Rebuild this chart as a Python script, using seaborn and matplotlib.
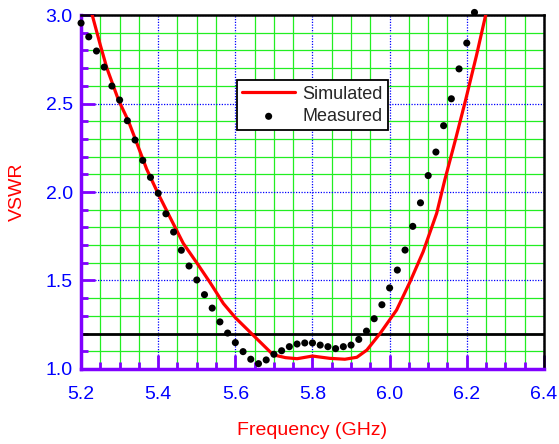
import matplotlib
matplotlib.use("Agg")
import matplotlib.pyplot as plt
import numpy as np
import pandas as pd
import seaborn as sns
from matplotlib.ticker import MultipleLocator

# measured VSWR, 20 MHz steps
meas_freq = [5.20, 5.22, 5.24, 5.26, 5.28, 5.30, 5.32, 5.34, 5.36, 5.38,
             5.40, 5.42, 5.44, 5.46, 5.48, 5.50, 5.52, 5.54, 5.56, 5.58,
             5.60, 5.62, 5.64, 5.66, 5.68, 5.70, 5.72, 5.74, 5.76, 5.78,
             5.80, 5.82, 5.84, 5.86, 5.88, 5.90, 5.92, 5.94, 5.96, 5.98,
             6.00, 6.02, 6.04, 6.06, 6.08, 6.10, 6.12, 6.14, 6.16, 6.18,
             6.20, 6.22]
meas_vswr = [2.955, 2.877, 2.797, 2.706, 2.599, 2.520, 2.403, 2.294, 2.179, 2.083,
             1.993, 1.877, 1.774, 1.671, 1.582, 1.503, 1.420, 1.344, 1.266, 1.203,
             1.149, 1.098, 1.055, 1.030, 1.051, 1.083, 1.103, 1.126, 1.141, 1.147,
             1.147, 1.135, 1.126, 1.115, 1.126, 1.135, 1.167, 1.214, 1.284, 1.363,
             1.458, 1.559, 1.672, 1.806, 1.939, 2.093, 2.226, 2.375, 2.527, 2.696,
             2.842, 3.015]

# simulated curve
sim_freq = [5.220, 5.229, 5.250, 5.267, 5.297, 5.323, 5.344, 5.370, 5.400, 5.430,
            5.465, 5.500, 5.534, 5.569, 5.600, 5.642, 5.670, 5.698, 5.730, 5.760,
            5.800, 5.845, 5.884, 5.915, 5.941, 5.975, 6.018, 6.053, 6.087, 6.122,
            6.143, 6.170, 6.197, 6.225, 6.249, 6.256]
sim_vswr = [3.06, 3.00, 2.83, 2.70, 2.52, 2.40, 2.28, 2.13, 1.99, 1.86,
            1.71, 1.60, 1.49, 1.37, 1.29, 1.20, 1.14, 1.08, 1.064, 1.058,
            1.073, 1.060, 1.055, 1.066, 1.107, 1.20, 1.333, 1.493, 1.663, 1.880,
            2.068, 2.29, 2.52, 2.77, 3.00, 3.05]

REF_LEVEL = 1.2

PURPLE = "#8000ff"
BLUE = "#0000ff"
RED = "#ff0000"

sns.set_style("ticks")
plt.rcParams["font.family"] = ["Liberation Sans", "DejaVu Sans"]

df_sim = pd.DataFrame({"freq": sim_freq, "vswr": sim_vswr})
df_meas = pd.DataFrame({"freq": meas_freq, "vswr": meas_vswr})

fig = plt.figure(figsize=(5.59, 4.44), dpi=100)
ax = fig.add_axes([0.145, 0.169, 0.828, 0.797])

# grid: green minor, blue dotted major
ax.xaxis.set_major_locator(MultipleLocator(0.2))
ax.xaxis.set_minor_locator(MultipleLocator(0.05))
ax.yaxis.set_major_locator(MultipleLocator(0.5))
ax.yaxis.set_minor_locator(MultipleLocator(0.1))
ax.grid(which="minor", color="#22ee22", lw=0.9, ls="-")
ax.grid(which="major", color=BLUE, lw=0.9, ls=(0, (1, 1.2)))
ax.set_axisbelow(True)

ax.axhline(REF_LEVEL, color="black", lw=2, zorder=2)

sns.lineplot(data=df_sim, x="freq", y="vswr", ax=ax, color=RED, lw=2.3,
             label="Simulated", sort=False, zorder=3)
sns.scatterplot(data=df_meas, x="freq", y="vswr", ax=ax, color="black",
                s=26, edgecolor="none", label="Measured", zorder=4, clip_on=False)

ax.set_xlim(5.2, 6.4)
ax.set_ylim(1.0, 3.0)
ax.set_xticks([5.2, 5.4, 5.6, 5.8, 6.0, 6.2, 6.4])
ax.set_xticklabels(["5.2", "5.4", "5.6", "5.8", "6.0", "6.2", "6.4"])
ax.set_yticks([1.0, 1.5, 2.0, 2.5, 3.0])
ax.set_yticklabels(["1.0", "1.5", "2.0", "2.5", "3.0"])

ax.tick_params(which="both", direction="in", color=PURPLE, width=2,
               labelsize=14, labelcolor=BLUE)
ax.tick_params(which="major", length=10)
ax.tick_params(which="minor", length=5)
ax.tick_params(axis="x", which="major", pad=12)
ax.tick_params(axis="y", which="major", pad=6)

for side in ["left", "bottom"]:
    ax.spines[side].set_color(PURPLE)
    ax.spines[side].set_linewidth(2.5)
for side in ["top", "right"]:
    ax.spines[side].set_color("black")
    ax.spines[side].set_linewidth(1.8)

ax.set_xlabel("Frequency (GHz)", color=RED, fontsize=14, labelpad=14)
ax.set_ylabel("VSWR", color=RED, fontsize=14, labelpad=14)

leg = ax.legend(loc="upper left", bbox_to_anchor=(0.337, 0.816), fontsize=13,
                frameon=True, fancybox=False, handlelength=2.9, borderpad=0.3,
                labelspacing=0.3, handletextpad=0.4, borderaxespad=0)
leg.get_frame().set_edgecolor("black")
leg.get_frame().set_linewidth(1.3)
leg.get_frame().set_alpha(1)

fig.savefig("out.png", dpi=100)
